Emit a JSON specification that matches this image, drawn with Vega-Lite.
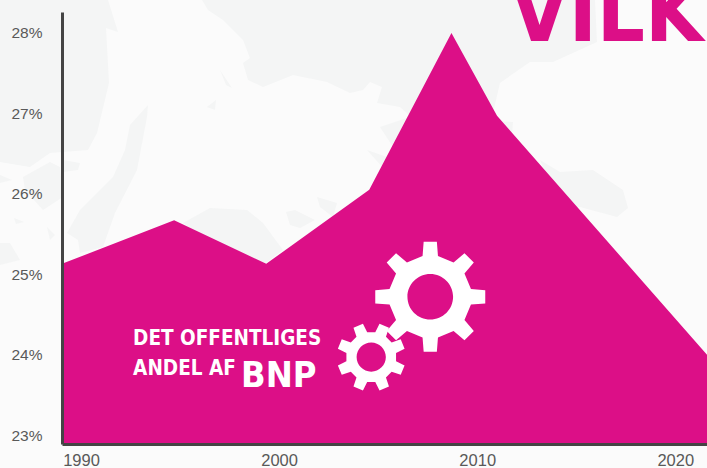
{
"$schema":"https://vega.github.io/schema/vega-lite/v6.json",
"width":645,"height":432,
"autosize":"none",
"padding":{"left":62,"top":12,"right":0,"bottom":24},
"background":"#fbfbfb",
"view":{"stroke":null},
"config":{"font":"Liberation Sans"},
"encoding":{
 "x":{"field":"year","type":"quantitative","title":null,"scale":{"domain":[1989.04,2021.6],"nice":false,"zero":false},
  "axis":{"zindex":1,"values":[1990,2000,2010,2020],"format":"d","grid":false,"ticks":false,"domainColor":"#444444","domainWidth":3,"labelColor":"#595959","labelFont":"Liberation Sans","labelFontSize":16.5,"labelPadding":8,"labelFlush":false,"encode":{"labels":{"update":{"dy":{"signal":"datum.value==2020?-3:0"}}}}}},
 "y":{"field":"share","type":"quantitative","title":null,"scale":{"domain":[22.89,28.26],"nice":false,"zero":false},
  "axis":{"zindex":1,"values":[23,24,25,26,27,28],"labelExpr":"datum.value+'%'","grid":false,"ticks":false,"domainColor":"#444444","domainWidth":3,"labelColor":"#595959","labelFont":"Liberation Sans","labelFontSize":15.5,"labelPadding":20}}
},
"layer":[
 {"data":{"values":[{"year":1985.91,"share":28.41}]},
  "mark":{"type":"point","filled":true,"size":4,"opacity":1,"color":"#f4f5f5","strokeWidth":0,
  "shape":"M0,0L108,0L118,32L106,28L109,83L97,133L88,150L50,153L30,167L0,162Z M148,105L130,125L125,150L113,177L80,210L67,233L78,240L80,253L103,247L115,213L137,170L147,117Z M202,0L208,10L223,20L243,40L250,58L243,63L248,80L263,87L293,75L327,82L350,93L363,90L370,82L382,87L377,103L400,107L420,125L493,113L500,83L530,62L553,62L597,42L595,0Z M380,127L407,118L513,122L510,160L393,147Z M367,150L387,157L385,170Z M540,160L560,172L593,170L623,190L628,208L617,217L580,207L560,210Z M183,223L210,208L247,210L263,223L283,250L266,263L220,250Z M317,197L337,203L333,217L320,207Z M286,212L295,210L315,220L300,228L290,225Z M220,70L232,88L226,85Z M207,107L216,100L215,110Z M23,177L50,162L60,167L63,197L43,210L25,190Z M63,160L80,163L78,170L63,172Z M0,243L10,243L20,260L0,265Z M47,227L55,235L50,240Z M0,175L12,180L0,183Z M14,218L24,222L16,224Z"}},
 {"data":{"values":[{"year":1989.04,"share":25.13,"base":22.89},{"year":1994.7,"share":25.67,"base":22.89},{"year":1999.35,"share":25.13,"base":22.89},{"year":2004.55,"share":26.05,"base":22.89},{"year":2008.7,"share":28.0,"base":22.89},{"year":2011.0,"share":26.97,"base":22.89},{"year":2021.6,"share":24.0,"base":22.89}]},
  "mark":{"type":"area","color":"#dc0f87","opacity":1},
  "encoding":{"y2":{"field":"base"}}},
 {"data":{"values":[{"year":2007.63,"share":24.72}]},
  "mark":{"type":"point","filled":true,"size":12100,"opacity":1,"color":"#ffffff","strokeWidth":0,
  "shape":"M0.74,-0.14L1,-0.12L1,0.12L0.74,0.14L0.622,0.424L0.792,0.622L0.622,0.792L0.424,0.622L0.14,0.74L0.12,1L-0.12,1L-0.14,0.74L-0.424,0.622L-0.622,0.792L-0.792,0.622L-0.622,0.424L-0.74,0.14L-1,0.12L-1,-0.12L-0.74,-0.14L-0.622,-0.424L-0.792,-0.622L-0.622,-0.792L-0.424,-0.622L-0.14,-0.74L-0.12,-1L0.12,-1L0.14,-0.74L0.424,-0.622L0.622,-0.792L0.792,-0.622L0.622,-0.424Z M0.415,0A0.415,0.415 0 1,0 -0.415,0A0.415,0.415 0 1,0 0.415,0Z"}},
 {"data":{"values":[{"year":2004.65,"share":23.97}]},
  "mark":{"type":"point","filled":true,"size":4624,"opacity":1,"color":"#ffffff","strokeWidth":0,
  "shape":"M0.73,0.119L0.981,0.244L0.867,0.522L0.6,0.433L0.433,0.6L0.522,0.867L0.244,0.981L0.119,0.73L-0.119,0.73L-0.244,0.981L-0.522,0.867L-0.433,0.6L-0.6,0.433L-0.867,0.522L-0.981,0.244L-0.73,0.119L-0.73,-0.119L-0.981,-0.244L-0.867,-0.522L-0.6,-0.433L-0.433,-0.6L-0.522,-0.867L-0.244,-0.981L-0.119,-0.73L0.119,-0.73L0.244,-0.981L0.522,-0.867L0.433,-0.6L0.6,-0.433L0.867,-0.522L0.981,-0.244L0.73,-0.119Z M0.43,0A0.43,0.43 0 1,0 -0.43,0A0.43,0.43 0 1,0 0.43,0Z"}},
 {"data":{"values":[{"year":1992.63,"share":24.12,"label":"DET OFFENTLIGES"},{"year":1992.63,"share":23.746,"label":"ANDEL AF"}]},
  "mark":{"type":"text","align":"left","baseline":"alphabetic","font":"DejaVu Sans Condensed","fontWeight":"bold","fontSize":20.5,"color":"#ffffff"},
  "encoding":{"text":{"field":"label"}}},
 {"data":{"values":[{"year":1998.08,"share":23.597,"label":"BNP"}]},
  "mark":{"type":"text","align":"left","baseline":"alphabetic","font":"DejaVu Sans Condensed","fontWeight":"bold","fontSize":36,"color":"#ffffff"},
  "encoding":{"text":{"field":"label"}}},
 {"data":{"values":[{"year":2011.67,"share":27.9,"label":"VILK"}]},
  "mark":{"type":"text","align":"left","baseline":"alphabetic","font":"DejaVu Sans Condensed","fontWeight":"bold","fontSize":84,"color":"#dc0f87"},
  "encoding":{"text":{"field":"label"}}}
]
}
